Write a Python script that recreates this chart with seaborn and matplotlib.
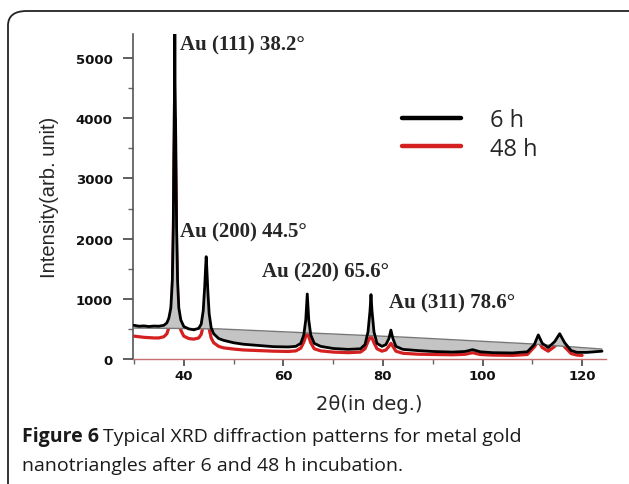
import numpy as np
import pandas as pd
import matplotlib
matplotlib.use("Agg")
import matplotlib.pyplot as plt
import seaborn as sns
from matplotlib.patches import FancyBboxPatch
from matplotlib.lines import Line2D
from matplotlib.ticker import MultipleLocator

# ---- data ----
two_theta_6h = [30, 31, 32, 33, 34, 35, 36, 36.6, 37.0, 37.4, 37.7, 37.9, 38.05, 38.15, 38.2, 38.25,
                38.4, 38.55, 38.75, 39.0, 39.4, 40.0, 41, 42, 43, 43.5, 43.9, 44.2, 44.4, 44.5, 44.6,
                44.85, 45.1, 45.5, 46, 47, 48, 50, 52, 55, 58, 61, 62.5, 63.5, 64.1, 64.5, 64.8, 65.1,
                65.5, 66.2, 67.5, 70, 73, 75.5, 76.4, 77.0, 77.4, 77.6, 77.8, 78.2, 78.8, 79.8, 80.6,
                81.2, 81.6, 82.0, 82.6, 84, 87, 90, 94, 96.5, 98, 99.5, 102, 106, 109, 110.4, 111.2,
                112, 113.2, 114.5, 115.5, 116.5, 117.8, 119, 121, 122.5, 124]
intensity_6h = [560, 545, 550, 540, 548, 545, 560, 600, 680, 850, 1300, 2200, 3900, 4550, 5450, 4550,
                3600, 2200, 1300, 850, 650, 540, 500, 485, 510, 580, 800, 1200, 1550, 1700, 1550,
                1100, 750, 520, 420, 340, 310, 270, 245, 225, 205, 200, 210, 260, 400, 650, 1080, 650,
                400, 260, 210, 175, 160, 170, 240, 450, 800, 1070, 800, 450, 260, 210, 240,
                340, 480, 340, 210, 160, 140, 125, 115, 125, 155, 120, 105, 100, 120, 240, 400,
                260, 190, 290, 420, 270, 140, 110, 110, 120, 130]

two_theta_48h = [30, 31, 32, 33, 34, 35, 36, 36.6, 37.0, 37.4, 37.7, 37.9, 38.05, 38.2, 38.4, 38.55,
                 38.75, 39.0, 39.4, 40.0, 41, 42, 43, 43.5, 43.9, 44.2, 44.5, 44.8, 45.1, 45.5, 46, 47,
                 48, 50, 52, 55, 58, 61, 62.5, 63.5, 64.1, 64.5, 64.8, 65.1, 65.5, 66.2, 67.5, 70, 73,
                 75.5, 76.4, 77.0, 77.4, 77.6, 77.8, 78.2, 78.8, 79.8, 80.6, 81.2, 81.6, 82.0, 82.6,
                 84, 87, 90, 94, 96.5, 98, 99.5, 102, 106, 109, 110.4, 111.2, 112, 113.2, 114.5,
                 115.5, 116.5, 117.8, 119, 120]
intensity_48h = [380, 370, 360, 355, 350, 350, 370, 420, 520, 700, 1100, 2000, 3300, 4000, 2900, 1900,
                 1100, 700, 480, 380, 340, 330, 350, 410, 550, 750, 950, 700, 500, 350, 270, 210,
                 185, 165, 150, 140, 130, 125, 135, 180, 280, 380, 430, 370, 270, 170, 135, 115, 105,
                 115, 170, 290, 360, 380, 350, 270, 170, 130, 150, 210, 260, 210, 130,
                 95, 80, 75, 70, 78, 105, 75, 65, 60, 75, 200, 300, 190, 130, 210,
                 320, 200, 90, 65, 60]

baseline_x = [30, 47, 85, 110, 124]
baseline_y = [515, 500, 360, 250, 165]

peak_labels = ["Au (111) 38.2°", "Au (200) 44.5°", "Au (220) 65.6°", "Au (311) 78.6°"]
label_x = [39.2, 39.2, 55.7, 81.2]
label_y = [5220, 2120, 1460, 945]

series_names = ["6 h", "48 h"]
series_colors = ["#000000", "#d42020"]

x_ticks = [40, 60, 80, 100, 120]
y_ticks = [0, 1000, 2000, 3000, 4000, 5000]

# ---- figure ----
sns.set_style("ticks")
plt.rcParams['font.family'] = ['DejaVu Sans']

fig = plt.figure(figsize=(6.29, 4.85), dpi=100)
ax = fig.add_axes([133/629, 1-360/485, (606-133)/629, (360-35)/485])

df6 = pd.DataFrame({"x": two_theta_6h, "y": intensity_6h})
df48 = pd.DataFrame({"x": two_theta_48h, "y": intensity_48h})

# red (48 h) underneath
sns.lineplot(data=df48, x="x", y="y", ax=ax, color=series_colors[1], lw=2.3, zorder=2,
             estimator=None, sort=False)
# gray fill between 6 h pattern and background line
bg_on_6h = np.interp(two_theta_6h, baseline_x, baseline_y)
ax.fill_between(two_theta_6h, intensity_6h, bg_on_6h, color="#c4c4c4", lw=0, zorder=3)
sns.lineplot(x=baseline_x, y=baseline_y, ax=ax, color="#777777", lw=1.0, zorder=3.5,
             estimator=None, sort=False)
sns.lineplot(data=df6, x="x", y="y", ax=ax, color=series_colors[0], lw=2.0, zorder=4,
             estimator=None, sort=False)

ax.set_xlim(29.8, 124.8)
ax.set_ylim(0, 5400)
ax.set_xticks(x_ticks)
ax.set_yticks(y_ticks)
ax.xaxis.set_minor_locator(MultipleLocator(10))
ax.yaxis.set_minor_locator(MultipleLocator(500))
ax.tick_params(axis="x", which="major", length=5, width=1.2, color="#444444",
               labelsize=9.5, direction="out", pad=2)
ax.tick_params(axis="y", which="major", length=7, width=1.2, color="#444444",
               labelsize=9.5, direction="out", pad=7.5)
ax.tick_params(axis="both", which="minor", length=3.5, width=1.0, color="#666666", direction="out")
for lab in ax.get_xticklabels() + ax.get_yticklabels():
    lab.set_fontweight("bold")
    lab.set_color("#111111")
for s in ["top", "right"]:
    ax.spines[s].set_visible(False)
ax.spines["left"].set_color("#555555")
ax.spines["left"].set_linewidth(1.2)
ax.spines["bottom"].set_color("#c87070")
ax.spines["bottom"].set_linewidth(1.0)

ax.set_xlabel("2θ(in deg.)", fontsize=14, labelpad=9)
ax.set_ylabel("Intensity(arb. unit)", fontsize=14.5, family="Liberation Sans", labelpad=12)

for t, xx, yy in zip(peak_labels, label_x, label_y):
    ax.text(xx, yy, t, fontsize=15, fontweight="bold", family="Liberation Serif",
            va="center", ha="left", zorder=5)

handles = [Line2D([0], [0], color=c, lw=3.2) for c in series_colors]
leg = ax.legend(handles, series_names, frameon=False, loc="upper left",
                bbox_to_anchor=((393 - 133) / 473, 1 - (100 - 35) / 325),
                prop={"family": "Open Sans", "size": 17}, handlelength=2.5,
                handletextpad=1.2, labelspacing=0.18, borderaxespad=0)

# frame around the figure
box = FancyBboxPatch((8/629, -0.1), 1.2, 0.1 + 1 - 12/485,
                     boxstyle="round,pad=0,rounding_size=0.03",
                     transform=fig.transFigure, fill=False, ec="#222222", lw=1.3,
                     clip_on=False)
fig.patches.append(box)

# caption
cap_fs = 14
t1 = fig.text(22/629, 1-437/485, "Figure 6", fontsize=cap_fs, fontweight="bold",
              family="Open Sans", va="center", ha="left", color="#1a1a1a")
fig.canvas.draw()
bb = t1.get_window_extent()
fig.text((bb.x1 + 4)/629, 1-437/485, "Typical XRD diffraction patterns for metal gold",
         fontsize=cap_fs, family="Open Sans", va="center", ha="left", color="#1a1a1a")
fig.text(22/629, 1-466/485, "nanotriangles after 6 and 48 h incubation.",
         fontsize=cap_fs, family="Open Sans", va="center", ha="left", color="#1a1a1a")

fig.savefig("out.png", dpi=100)
